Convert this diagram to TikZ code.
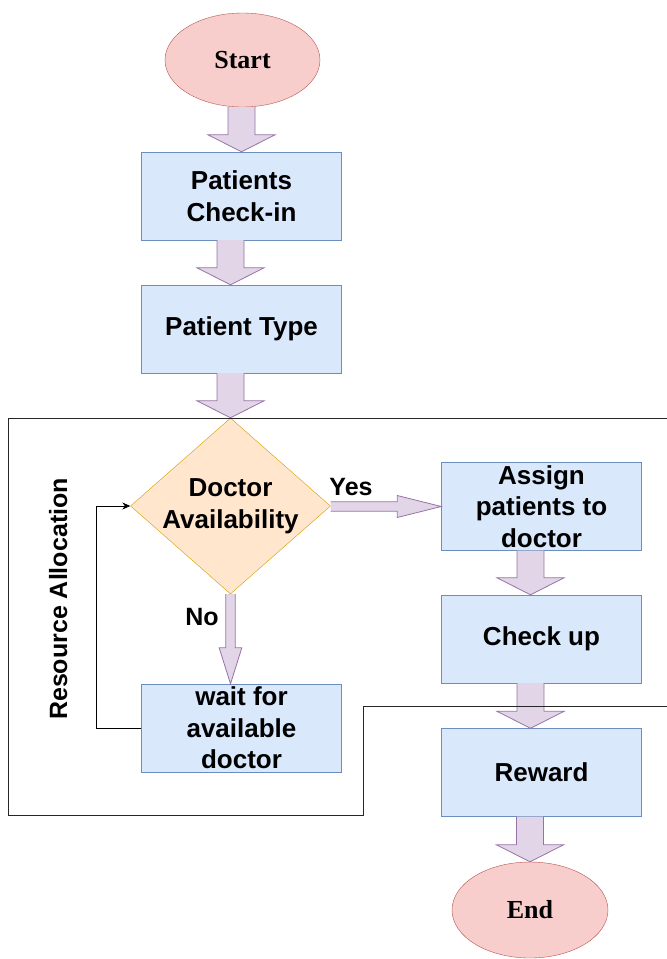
\documentclass[tikz,border=0pt]{standalone}
\usepackage{fontspec}
\setmainfont{Liberation Sans}
\newfontfamily\termfont{Liberation Serif}
\usetikzlibrary{shapes.geometric,arrows.meta,calc}

\definecolor{boxfill}{HTML}{DAE8FC}
\definecolor{boxline}{HTML}{6C8EBF}
\definecolor{termfill}{HTML}{F8CECC}
\definecolor{termline}{HTML}{B85450}
\definecolor{decfill}{HTML}{FFE6CC}
\definecolor{decline}{HTML}{D79B00}
\definecolor{arrfill}{HTML}{E1D5E7}
\definecolor{arrline}{HTML}{9673A6}

\tikzset{
    process/.style={draw=boxline, fill=boxfill, rectangle, minimum width=200pt, minimum height=88pt, inner sep=0pt, align=center, font=\fontsize{26}{31.5}\selectfont\bfseries},
    terminal/.style={draw=termline, fill=termfill, ellipse, minimum width=156pt, minimum height=96pt, inner sep=0pt, font=\termfont\fontsize{26}{30}\selectfont\bfseries},
    decision/.style={draw=decline, fill=decfill, diamond, aspect=1.136, minimum width=200pt, minimum height=176pt, inner sep=0pt, align=center, font=\fontsize{26}{31.5}\selectfont\bfseries},
    branch/.style={font=\fontsize{25}{30}\selectfont\bfseries},
    blockarrow/.style={draw=arrline, fill=arrfill, line width=0.8pt},
    feedback/.style={draw=black, line width=0.7pt, -{Stealth[length=8pt,width=7pt]}},
    container/.style={draw=black!85, line width=0.9pt}
}

\newcommand{\vblock}[5]{%
    \draw[blockarrow] let \p1=(#1), \p2=(#2) in
        (\x2-#3,\y1) -- (\x2-#3,\y2+#5) -- (\x2-#4,\y2+#5) -- (\x2,\y2)
        -- (\x2+#4,\y2+#5) -- (\x2+#3,\y2+#5) -- (\x2+#3,\y1);}
\newcommand{\hblock}[5]{%
    \draw[blockarrow] let \p1=(#1), \p2=(#2) in
        (\x1,\y2+#3) -- (\x2-#5,\y2+#3) -- (\x2-#5,\y2+#4) -- (\x2,\y2)
        -- (\x2-#5,\y2-#4) -- (\x2-#5,\y2-#3) -- (\x1,\y2-#3);}

\begin{document}
\begin{tikzpicture}[x=1pt, y=-1pt]
    \useasboundingbox (0,0) rectangle (667,959);

    \node[terminal, minimum width=155pt, minimum height=94pt] (start) at (242.5,60) {Start};
    \node[process] (checkin) at (241.5,196) {Patients\\Check-in};
    \node[process] (ptype) at (241.5,329) {Patient Type};
    \node[decision] (avail) at (230.5,506) {Doctor\\Availability};
    \node[process] (wait) at (241.5,728) {wait for\\available\\doctor};
    \node[process] (assign) at (541.5,506.5) {Assign\\patients to\\doctor};
    \node[process] (checkup) at (541.5,639) {Check up};
    \node[process] (reward) at (541.5,772.5) {Reward};
    \node[terminal] (end) at (530,910) {End};

    \node[branch] (yes) at (351,487) {Yes};
    \node[branch] (no) at (202,617) {No};
    \node[branch, rotate=90, anchor=base] (ralabel) at (67,599) {Resource Allocation};

    \vblock{start.south}{checkin.north}{13.5pt}{33.5pt}{17pt}
    \vblock{[xshift=-11pt]checkin.south}{[xshift=-11pt]ptype.north}{13.5pt}{33.5pt}{17pt}
    \vblock{[xshift=-11pt]ptype.south}{avail.north}{13.5pt}{33.5pt}{17pt}
    \hblock{avail.east}{assign.west}{4.7pt}{11pt}{44pt}
    \vblock{avail.south}{[xshift=-11pt]wait.north}{4.7pt}{11.3pt}{36pt}
    \vblock{[xshift=-11pt]assign.south}{[xshift=-11pt]checkup.north}{13.5pt}{33.5pt}{17pt}
    \vblock{[xshift=-11pt]checkup.south}{[xshift=-11pt]reward.north}{13.5pt}{33.5pt}{17pt}
    \vblock{[xshift=-11pt]reward.south}{end.north}{13.5pt}{33.5pt}{17pt}

    \draw[feedback] (wait.west) -- ++(-44.7,0) |- (avail.west);

    \draw[container] (667,418) -- (8,418) -- (8,815) -- (363,815) -- (363,706.7) -- (667,706.7);
\end{tikzpicture}
\end{document}
